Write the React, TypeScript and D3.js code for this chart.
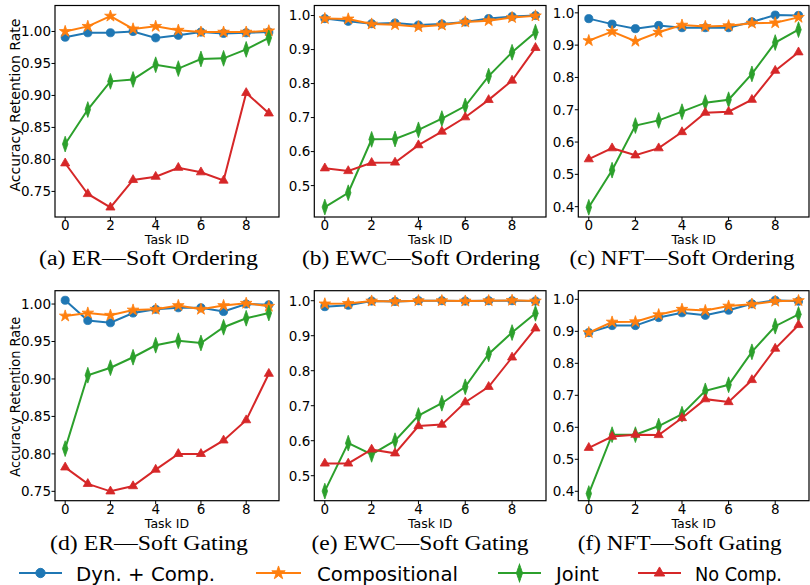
import React from 'react';
import * as d3 from 'd3';

// ---------- data ----------
const taskIds = [0, 1, 2, 3, 4, 5, 6, 7, 8, 9];
const seriesNames = ['Dyn. + Comp.', 'Compositional', 'Joint', 'No Comp.'];
const seriesColors = ['#1f77b4', '#ff7f0e', '#2ca02c', '#d62728'];

const captions = [
  '(a) ER\u2014Soft Ordering',
  '(b) EWC\u2014Soft Ordering',
  '(c) NFT\u2014Soft Ordering',
  '(d) ER\u2014Soft Gating',
  '(e) EWC\u2014Soft Gating',
  '(f) NFT\u2014Soft Gating',
];

const xTicks = [0, 2, 4, 6, 8];
const yTicksER = [0.75, 0.8, 0.85, 0.9, 0.95, 1.0];
const yTicksEWC = [0.5, 0.6, 0.7, 0.8, 0.9, 1.0];
const yTicksNFT = [0.4, 0.5, 0.6, 0.7, 0.8, 0.9, 1.0];

// (a) ER — Soft Ordering
const erOrderDyn = [0.991, 0.998, 0.998, 1.0, 0.99, 0.994, 0.999, 0.997, 0.998, 0.999];
const erOrderComp = [1.0, 1.008, 1.024, 1.004, 1.008, 1.002, 0.999, 0.999, 0.999, 1.001];
const erOrderJoint = [0.824, 0.878, 0.922, 0.925, 0.948, 0.942, 0.957, 0.958, 0.972, 0.99];
const erOrderNoComp = [0.794, 0.746, 0.725, 0.768, 0.773, 0.787, 0.78, 0.767, 0.904, 0.872];

// (b) EWC — Soft Ordering
const ewcOrderDyn = [0.991, 0.983, 0.976, 0.978, 0.972, 0.975, 0.981, 0.991, 0.997, 1.0];
const ewcOrderComp = [0.991, 0.99, 0.975, 0.973, 0.967, 0.972, 0.981, 0.985, 0.994, 0.999];
const ewcOrderJoint = [0.437, 0.479, 0.636, 0.637, 0.664, 0.697, 0.734, 0.822, 0.892, 0.951];
const ewcOrderNoComp = [0.551, 0.543, 0.567, 0.568, 0.619, 0.659, 0.701, 0.752, 0.809, 0.905];

// (c) NFT — Soft Ordering
const nftOrderDyn = [0.982, 0.965, 0.951, 0.961, 0.954, 0.954, 0.954, 0.972, 0.993, 0.992];
const nftOrderComp = [0.914, 0.942, 0.912, 0.94, 0.962, 0.958, 0.96, 0.968, 0.969, 0.986];
const nftOrderJoint = [0.398, 0.513, 0.651, 0.667, 0.694, 0.722, 0.731, 0.811, 0.908, 0.948];
const nftOrderNoComp = [0.547, 0.581, 0.559, 0.581, 0.631, 0.691, 0.694, 0.731, 0.821, 0.878];

// (d) ER — Soft Gating
const erGateDyn = [1.005, 0.978, 0.975, 0.988, 0.993, 0.995, 0.995, 0.99, 1.0, 0.999];
const erGateComp = [0.984, 0.988, 0.985, 0.992, 0.993, 0.998, 0.993, 0.998, 1.001, 0.997];
const erGateJoint = [0.807, 0.905, 0.915, 0.929, 0.945, 0.951, 0.948, 0.969, 0.981, 0.988];
const erGateNoComp = [0.782, 0.76, 0.75, 0.757, 0.779, 0.8, 0.8, 0.818, 0.845, 0.907];

// (e) EWC — Soft Gating
const ewcGateDyn = [0.983, 0.987, 0.999, 0.998, 1.0, 1.0, 0.999, 1.0, 1.0, 0.999];
const ewcGateComp = [0.991, 0.992, 0.999, 0.998, 1.0, 1.0, 0.999, 1.0, 1.001, 0.999];
const ewcGateJoint = [0.456, 0.593, 0.561, 0.6, 0.672, 0.707, 0.754, 0.848, 0.909, 0.964];
const ewcGateNoComp = [0.535, 0.535, 0.575, 0.564, 0.642, 0.646, 0.71, 0.754, 0.838, 0.921];

// (f) NFT — Soft Gating
const nftGateDyn = [0.896, 0.918, 0.918, 0.943, 0.958, 0.95, 0.966, 0.986, 0.997, 0.994];
const nftGateComp = [0.896, 0.929, 0.93, 0.952, 0.969, 0.965, 0.979, 0.985, 0.994, 0.996];
const nftGateJoint = [0.393, 0.577, 0.577, 0.604, 0.641, 0.714, 0.733, 0.836, 0.916, 0.953];
const nftGateNoComp = [0.536, 0.571, 0.577, 0.576, 0.629, 0.688, 0.679, 0.748, 0.846, 0.92];

const panelSeries = [
  [erOrderDyn, erOrderComp, erOrderJoint, erOrderNoComp],
  [ewcOrderDyn, ewcOrderComp, ewcOrderJoint, ewcOrderNoComp],
  [nftOrderDyn, nftOrderComp, nftOrderJoint, nftOrderNoComp],
  [erGateDyn, erGateComp, erGateJoint, erGateNoComp],
  [ewcGateDyn, ewcGateComp, ewcGateJoint, ewcGateNoComp],
  [nftGateDyn, nftGateComp, nftGateJoint, nftGateNoComp],
];
const panelYTicks = [yTicksER, yTicksEWC, yTicksNFT, yTicksER, yTicksEWC, yTicksNFT];
const panelYFormat = ['.2f', '.1f', '.1f', '.2f', '.1f', '.1f'];

// ---------- layout ----------
const W = 810;
const H = 585;
const cols = [
  { left: 55, right: 279 },
  { left: 314.3, right: 546 },
  { left: 578.3, right: 809 },
];
const rows = [
  { top: 5.5, bottom: 217, taskBase: 244, capBase: 265 },
  { top: 290.7, bottom: 500.7, taskBase: 527.5, capBase: 550 },
];
const yDomains = [
  [0.71, 1.0406],
  [0.4077, 1.0295],
  [0.368, 1.0227],
  [0.7375, 1.0178],
  [0.4286, 1.0286],
  [0.3706, 1.027],
];
const captionLayout = [
  { cx: 148.5, w: 219 },
  { cx: 421, w: 238 },
  { cx: 682, w: 225 },
  { cx: 149, w: 198 },
  { cx: 420, w: 217 },
  { cx: 679.7, w: 204 },
];
const legendLayout = [
  { x0: 19, x1: 62, tx: 76, tw: 139 },
  { x0: 256, x1: 301, tx: 317, tw: 141 },
  { x0: 498, x1: 541, tx: 556, tw: 43 },
  { x0: 638, x1: 681, tx: 695, tw: 87 },
];

const SANS = 'DejaVu Sans, sans-serif';
const SERIF = 'Liberation Serif, Times New Roman, serif';

function markerPath(i: number): { d: string; sx: number; sy: number } {
  if (i === 0) return { d: d3.symbol(d3.symbolCircle, 52)() as string, sx: 1, sy: 1 };
  if (i === 1) return { d: d3.symbol(d3.symbolStar, 42)() as string, sx: 1, sy: 1 };
  if (i === 2) return { d: d3.symbol(d3.symbolDiamond, 46)() as string, sx: 0.75, sy: 1.25 };
  return { d: d3.symbol(d3.symbolTriangle, 36)() as string, sx: 1, sy: 1 };
}

function Marker({ i, x, y, scale = 1 }: { i: number; x: number; y: number; scale?: number }) {
  const m = markerPath(i);
  return (
    <path
      d={m.d}
      transform={`translate(${x},${y}) scale(${m.sx * scale},${m.sy * scale})`}
      fill={seriesColors[i]}
      stroke={seriesColors[i]}
      strokeWidth={0.8}
    />
  );
}

function Panel({ p }: { p: number }) {
  const col = cols[p % 3];
  const row = rows[Math.floor(p / 3)];
  const x = d3.scaleLinear().domain([-0.45, 9.45]).range([col.left, col.right]);
  const y = d3.scaleLinear().domain(yDomains[p]).range([row.bottom, row.top]);
  const fmt = d3.format(panelYFormat[p]);
  const line = d3
    .line<number>()
    .x((_, i) => x(taskIds[i]))
    .y((v) => y(v));
  const cx = (col.left + col.right) / 2;
  const cap = captionLayout[p];
  return (
    <g>
      {panelSeries[p].map((vals, si) => (
        <g key={si}>
          <path d={line(vals) as string} fill="none" stroke={seriesColors[si]} strokeWidth={2} />
          {vals.map((v, k) => (
            <Marker key={k} i={si} x={x(taskIds[k])} y={y(v)} />
          ))}
        </g>
      ))}
      <rect
        x={col.left}
        y={row.top}
        width={col.right - col.left}
        height={row.bottom - row.top}
        fill="none"
        stroke="#000"
        strokeWidth={1.2}
      />
      {xTicks.map((t) => (
        <g key={t}>
          <line x1={x(t)} x2={x(t)} y1={row.bottom} y2={row.bottom + 3.5} stroke="#000" strokeWidth={1} />
          <text
            x={x(t)}
            y={row.bottom + 13.3}
            textAnchor="middle"
            fontFamily={SANS}
            fontSize={13.5}
            fill="#000"
          >
            {t}
          </text>
        </g>
      ))}
      {panelYTicks[p].map((t) => (
        <g key={t}>
          <line x1={col.left - 3.5} x2={col.left} y1={y(t)} y2={y(t)} stroke="#000" strokeWidth={1} />
          <text
            x={col.left - 4}
            y={y(t) + 4.9}
            textAnchor="end"
            fontFamily={SANS}
            fontSize={13.5}
            fill="#000"
          >
            {fmt(t)}
          </text>
        </g>
      ))}
      <text
        x={cx}
        y={row.taskBase}
        textAnchor="middle"
        fontFamily={SANS}
        fontSize={12.5}
        fill="#000"
      >
        Task ID
      </text>
      <text
        x={cap.cx}
        y={row.capBase}
        textAnchor="middle"
        fontFamily={SERIF}
        fontSize={20}
        textLength={cap.w}
        lengthAdjust="spacingAndGlyphs"
        fill="#000"
      >
        {captions[p]}
      </text>
      {p % 3 === 0 && (
        <text
          transform={`translate(${19.5},${p === 0 ? 105 : 396.7}) rotate(-90)`}
          textAnchor="middle"
          fontFamily={SANS}
          fontSize={13.5}
          textLength={p === 0 ? 173 : 160}
          lengthAdjust="spacingAndGlyphs"
          fill="#000"
        >
          Accuracy Retention Rate
        </text>
      )}
    </g>
  );
}

export default function App() {
  const legendY = 573;
  return (
    <svg width={W} height={H} viewBox={`0 0 ${W} ${H}`} style={{ display: 'block', position: 'absolute', left: 0, top: 0, background: '#fff' }}>
      <rect x={0} y={0} width={W} height={H} fill="#fff" />
      {[0, 1, 2, 3, 4, 5].map((p) => (
        <Panel key={p} p={p} />
      ))}
      {seriesNames.map((name, i) => {
        const L = legendLayout[i];
        return (
          <g key={name}>
            <line x1={L.x0} x2={L.x1} y1={legendY} y2={legendY} stroke={seriesColors[i]} strokeWidth={2.2} />
            <Marker i={i} x={(L.x0 + L.x1) / 2} y={legendY} scale={1.15} />
            <text
              x={L.tx}
              y={legendY + 8}
              fontFamily={SANS}
              fontSize={19.5}
              textLength={L.tw}
              lengthAdjust="spacingAndGlyphs"
              fill="#000"
            >
              {name}
            </text>
          </g>
        );
      })}
    </svg>
  );
}
